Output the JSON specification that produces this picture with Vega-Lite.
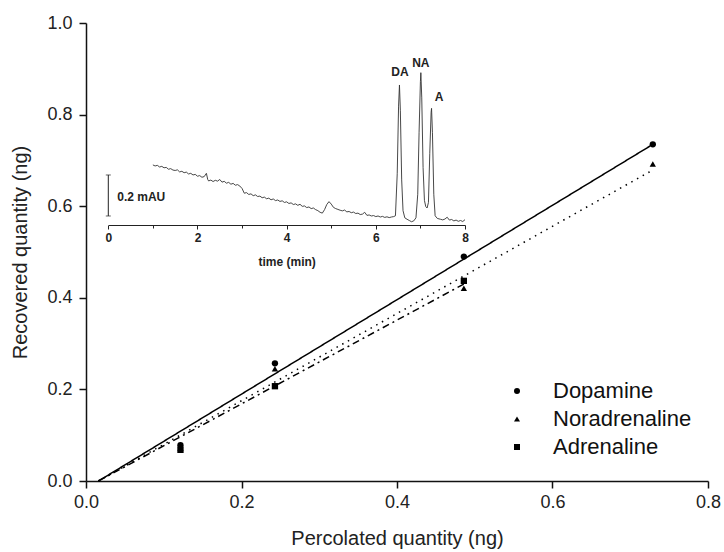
{
  "$schema": "https://vega.github.io/schema/vega-lite/v6.json",
  "width": 622,
  "height": 458,
  "autosize": {"type": "none"},
  "padding": {"left": 86, "top": 23, "right": 16, "bottom": 71},
  "background": "white",
  "config": {"view": {"stroke": null}, "font": "Liberation Sans"},
  "datasets": {
    "measured": [
      {"series": "Dopamine", "x": 0.1215, "y": 0.078},
      {"series": "Dopamine", "x": 0.243, "y": 0.257},
      {"series": "Dopamine", "x": 0.486, "y": 0.49},
      {"series": "Dopamine", "x": 0.729, "y": 0.735},
      {"series": "Noradrenaline", "x": 0.1215, "y": 0.072},
      {"series": "Noradrenaline", "x": 0.243, "y": 0.245},
      {"series": "Noradrenaline", "x": 0.486, "y": 0.421},
      {"series": "Noradrenaline", "x": 0.729, "y": 0.692},
      {"series": "Adrenaline", "x": 0.1215, "y": 0.068},
      {"series": "Adrenaline", "x": 0.243, "y": 0.207},
      {"series": "Adrenaline", "x": 0.486, "y": 0.437}
    ],
    "fits": [
      {"fit": "Dopamine fit", "x": 0.016, "y": 0},
      {"fit": "Dopamine fit", "x": 0.729, "y": 0.735},
      {"fit": "Noradrenaline fit", "x": 0.016, "y": 0},
      {"fit": "Noradrenaline fit", "x": 0.729, "y": 0.679},
      {"fit": "Adrenaline fit", "x": 0.016, "y": 0},
      {"fit": "Adrenaline fit", "x": 0.486, "y": 0.43}
    ],
    "trace": [
      {"t": 1.00, "v": 0.293}, {"t": 1.05, "v": 0.288}, {"t": 1.10, "v": 0.291}, {"t": 1.15, "v": 0.283},
      {"t": 1.20, "v": 0.286}, {"t": 1.25, "v": 0.279}, {"t": 1.30, "v": 0.281}, {"t": 1.35, "v": 0.272},
      {"t": 1.40, "v": 0.275}, {"t": 1.45, "v": 0.268}, {"t": 1.50, "v": 0.266}, {"t": 1.55, "v": 0.269},
      {"t": 1.60, "v": 0.259}, {"t": 1.65, "v": 0.262}, {"t": 1.70, "v": 0.255}, {"t": 1.75, "v": 0.258},
      {"t": 1.80, "v": 0.249}, {"t": 1.85, "v": 0.252}, {"t": 1.90, "v": 0.244}, {"t": 1.95, "v": 0.247},
      {"t": 2.00, "v": 0.238}, {"t": 2.05, "v": 0.241}, {"t": 2.10, "v": 0.233}, {"t": 2.15, "v": 0.236},
      {"t": 2.20, "v": 0.252}, {"t": 2.23, "v": 0.222}, {"t": 2.25, "v": 0.215}, {"t": 2.30, "v": 0.219},
      {"t": 2.35, "v": 0.212}, {"t": 2.40, "v": 0.218}, {"t": 2.45, "v": 0.214}, {"t": 2.50, "v": 0.222},
      {"t": 2.55, "v": 0.209}, {"t": 2.60, "v": 0.213}, {"t": 2.65, "v": 0.204}, {"t": 2.70, "v": 0.208},
      {"t": 2.75, "v": 0.199}, {"t": 2.80, "v": 0.203}, {"t": 2.85, "v": 0.194}, {"t": 2.90, "v": 0.197},
      {"t": 2.95, "v": 0.190}, {"t": 3.00, "v": 0.178}, {"t": 3.05, "v": 0.155}, {"t": 3.10, "v": 0.158},
      {"t": 3.15, "v": 0.149}, {"t": 3.20, "v": 0.152}, {"t": 3.25, "v": 0.143}, {"t": 3.30, "v": 0.147},
      {"t": 3.35, "v": 0.139}, {"t": 3.40, "v": 0.141}, {"t": 3.45, "v": 0.133}, {"t": 3.50, "v": 0.136},
      {"t": 3.55, "v": 0.128}, {"t": 3.60, "v": 0.131}, {"t": 3.65, "v": 0.123}, {"t": 3.70, "v": 0.127},
      {"t": 3.75, "v": 0.119}, {"t": 3.80, "v": 0.122}, {"t": 3.85, "v": 0.115}, {"t": 3.90, "v": 0.118},
      {"t": 3.95, "v": 0.110}, {"t": 4.00, "v": 0.113}, {"t": 4.05, "v": 0.105}, {"t": 4.10, "v": 0.108},
      {"t": 4.15, "v": 0.100}, {"t": 4.20, "v": 0.103}, {"t": 4.25, "v": 0.096}, {"t": 4.30, "v": 0.101},
      {"t": 4.35, "v": 0.091}, {"t": 4.40, "v": 0.093}, {"t": 4.45, "v": 0.085}, {"t": 4.50, "v": 0.088},
      {"t": 4.55, "v": 0.080}, {"t": 4.60, "v": 0.083}, {"t": 4.65, "v": 0.075}, {"t": 4.70, "v": 0.070},
      {"t": 4.75, "v": 0.062}, {"t": 4.80, "v": 0.058}, {"t": 4.85, "v": 0.075}, {"t": 4.90, "v": 0.100},
      {"t": 4.95, "v": 0.114}, {"t": 5.00, "v": 0.102}, {"t": 5.05, "v": 0.086}, {"t": 5.10, "v": 0.080},
      {"t": 5.15, "v": 0.076}, {"t": 5.20, "v": 0.072}, {"t": 5.25, "v": 0.069}, {"t": 5.30, "v": 0.073},
      {"t": 5.35, "v": 0.064}, {"t": 5.40, "v": 0.066}, {"t": 5.45, "v": 0.060}, {"t": 5.50, "v": 0.063},
      {"t": 5.55, "v": 0.056}, {"t": 5.60, "v": 0.058}, {"t": 5.65, "v": 0.051}, {"t": 5.70, "v": 0.053},
      {"t": 5.75, "v": 0.062}, {"t": 5.80, "v": 0.047}, {"t": 5.85, "v": 0.049}, {"t": 5.90, "v": 0.044},
      {"t": 5.95, "v": 0.046}, {"t": 6.00, "v": 0.041}, {"t": 6.05, "v": 0.044}, {"t": 6.10, "v": 0.039},
      {"t": 6.15, "v": 0.042}, {"t": 6.20, "v": 0.037}, {"t": 6.25, "v": 0.040}, {"t": 6.30, "v": 0.036},
      {"t": 6.35, "v": 0.039}, {"t": 6.40, "v": 0.041}, {"t": 6.44, "v": 0.045}, {"t": 6.48, "v": 0.25},
      {"t": 6.51, "v": 0.58}, {"t": 6.53, "v": 0.683}, {"t": 6.55, "v": 0.56}, {"t": 6.58, "v": 0.22},
      {"t": 6.61, "v": 0.07}, {"t": 6.65, "v": 0.035}, {"t": 6.70, "v": 0.028}, {"t": 6.75, "v": 0.022},
      {"t": 6.80, "v": 0.016}, {"t": 6.85, "v": 0.02}, {"t": 6.90, "v": 0.035}, {"t": 6.94, "v": 0.15},
      {"t": 6.97, "v": 0.45}, {"t": 7.00, "v": 0.70}, {"t": 7.01, "v": 0.743}, {"t": 7.03, "v": 0.62},
      {"t": 7.06, "v": 0.28}, {"t": 7.09, "v": 0.12}, {"t": 7.12, "v": 0.09}, {"t": 7.15, "v": 0.083},
      {"t": 7.18, "v": 0.11}, {"t": 7.21, "v": 0.35}, {"t": 7.24, "v": 0.55}, {"t": 7.25, "v": 0.569},
      {"t": 7.27, "v": 0.45}, {"t": 7.30, "v": 0.15}, {"t": 7.33, "v": 0.045}, {"t": 7.38, "v": 0.032},
      {"t": 7.45, "v": 0.028}, {"t": 7.50, "v": 0.025}, {"t": 7.55, "v": 0.029}, {"t": 7.60, "v": 0.038},
      {"t": 7.65, "v": 0.024}, {"t": 7.70, "v": 0.027}, {"t": 7.75, "v": 0.020}, {"t": 7.80, "v": 0.024},
      {"t": 7.85, "v": 0.018}, {"t": 7.90, "v": 0.022}, {"t": 7.95, "v": 0.017}, {"t": 8.00, "v": 0.026}
    ],
    "scalebar": [{"t": 0, "v": 0.044}, {"t": 0, "v": 0.244}],
    "peaks": [
      {"label": "DA", "t": 6.54, "v": 0.748},
      {"label": "NA", "t": 7.01, "v": 0.792},
      {"label": "A", "t": 7.42, "v": 0.624}
    ],
    "barlabel": [{"label": "0.2 mAU", "t": 0.2, "v": 0.137}]
  },
  "layer": [
    {
      "layer": [
        {
          "data": {"name": "fits"},
          "mark": {"type": "line", "color": "black", "strokeWidth": 1.5},
          "encoding": {
            "x": {
              "field": "x", "type": "quantitative",
              "scale": {"domain": [0, 0.8], "nice": false},
              "axis": {
                "values": [0, 0.2, 0.4, 0.6, 0.8], "format": ".1f",
                "title": "Percolated quantity (ng)", "titleFontSize": 20, "titleFontWeight": "normal",
                "titleColor": "#222", "titlePadding": 17,
                "labelFontSize": 18, "labelColor": "#222", "labelPadding": 5, "labelFlush": false,
                "tickSize": 7, "tickWidth": 1.5, "tickColor": "#111",
                "domainWidth": 1.5, "domainColor": "#111", "grid": false
              }
            },
            "y": {
              "field": "y", "type": "quantitative",
              "scale": {"domain": [0, 1], "nice": false},
              "axis": {
                "values": [0, 0.2, 0.4, 0.6, 0.8, 1.0], "format": ".1f",
                "title": "Recovered quantity (ng)", "titleFontSize": 20, "titleFontWeight": "normal",
                "titleColor": "#222", "titlePadding": 16,
                "labelFontSize": 18, "labelColor": "#222", "labelPadding": 7, "labelFlush": false,
                "tickSize": 7, "tickWidth": 1.5, "tickColor": "#111",
                "domainWidth": 1.5, "domainColor": "#111", "grid": false
              }
            },
            "detail": {"field": "fit", "type": "nominal"},
            "strokeDash": {
              "field": "fit", "type": "nominal",
              "scale": {"domain": ["Dopamine fit", "Noradrenaline fit", "Adrenaline fit"], "range": [[1, 0], [1.5, 5], [7, 4, 2, 4]]},
              "legend": null
            }
          }
        },
        {
          "data": {"name": "measured"},
          "mark": {"type": "point", "filled": true, "color": "black", "size": 40, "opacity": 1},
          "encoding": {
            "x": {"field": "x", "type": "quantitative"},
            "y": {"field": "y", "type": "quantitative"},
            "shape": {
              "field": "series", "type": "nominal",
              "scale": {"domain": ["Dopamine", "Noradrenaline", "Adrenaline"], "range": ["circle", "triangle-up", "square"]},
              "legend": {
                "orient": "none", "legendX": 420, "legendY": 357, "title": null,
                "labelFontSize": 22, "labelFont": "Liberation Sans", "labelColor": "#111",
                "symbolSize": 36, "symbolFillColor": "black", "symbolStrokeColor": "black",
                "symbolStrokeWidth": 0, "symbolOpacity": 1, "rowPadding": 6, "labelOffset": 25, "padding": 0
              }
            }
          }
        }
      ]
    },
    {
      "layer": [
        {
          "data": {"name": "trace"},
          "mark": {"type": "line", "color": "#333", "strokeWidth": 0.9},
          "encoding": {
            "x": {
              "field": "t", "type": "quantitative",
              "scale": {"domain": [0, 8], "range": [22.3, 379], "nice": false},
              "axis": {
                "orient": "bottom", "offset": -256,
                "values": [0, 1, 2, 3, 4, 5, 6, 7, 8], "format": "d",
                "labelExpr": "datum.value % 2 === 0 ? datum.label : ''",
                "labelFont": "Liberation Sans", "labelFontWeight": "bold", "labelFontSize": 12,
                "labelColor": "#222", "labelPadding": 3, "labelFlush": false, "labelOverlap": false,
                "tickSize": {"condition": {"test": "datum.value % 2 === 0", "value": 4}, "value": 3},
                "tickColor": "#222", "tickWidth": 1, "domainColor": "#222", "domainWidth": 1,
                "title": "time (min)", "titleFont": "Liberation Sans", "titleFontSize": 12,
                "titleFontWeight": "bold", "titleColor": "#222", "titlePadding": 13, "grid": false
              }
            },
            "y": {
              "field": "v", "type": "quantitative",
              "scale": {"domain": [0, 0.8], "range": [202, 38], "nice": false},
              "axis": null
            }
          }
        },
        {
          "data": {"name": "scalebar"},
          "mark": {"type": "line", "color": "#222", "strokeWidth": 1},
          "encoding": {
            "x": {"field": "t", "type": "quantitative"},
            "y": {"field": "v", "type": "quantitative"}
          }
        },
        {
          "data": {"name": "scalebar"},
          "mark": {"type": "tick", "orient": "horizontal", "color": "#222", "size": 5, "thickness": 1},
          "encoding": {
            "x": {"field": "t", "type": "quantitative"},
            "y": {"field": "v", "type": "quantitative"}
          }
        },
        {
          "data": {"name": "peaks"},
          "mark": {"type": "text", "font": "Liberation Sans", "fontWeight": "bold", "fontSize": 12, "color": "#222", "align": "center", "baseline": "middle"},
          "encoding": {
            "x": {"field": "t", "type": "quantitative"},
            "y": {"field": "v", "type": "quantitative"},
            "text": {"field": "label"}
          }
        },
        {
          "data": {"name": "barlabel"},
          "mark": {"type": "text", "font": "Liberation Sans", "fontWeight": "bold", "fontSize": 12, "color": "#222", "align": "left", "baseline": "middle"},
          "encoding": {
            "x": {"field": "t", "type": "quantitative"},
            "y": {"field": "v", "type": "quantitative"},
            "text": {"field": "label"}
          }
        }
      ]
    }
  ],
  "resolve": {
    "scale": {"x": "independent", "y": "independent"},
    "axis": {"x": "independent", "y": "independent"}
  }
}
